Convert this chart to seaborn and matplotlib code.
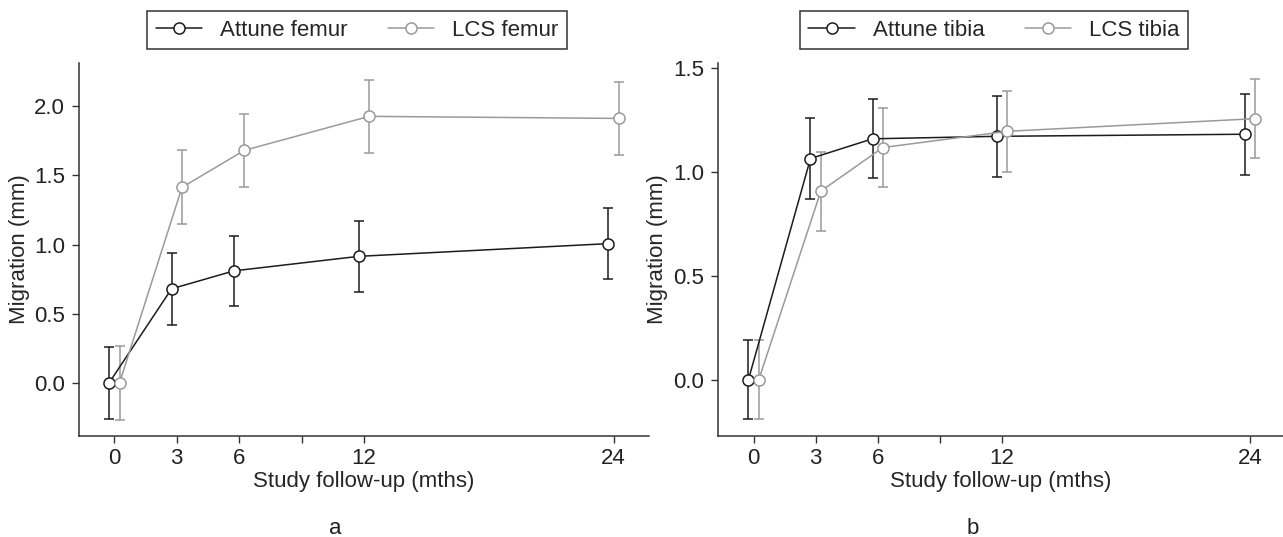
"""
Migration of femoral and tibial components over study follow-up.
Two panels (a: femur, b: tibia), mean migration with error bars.
"""

import numpy as np
import pandas as pd
import matplotlib
matplotlib.use("Agg")
import matplotlib.pyplot as plt
import seaborn as sns

# ──────────────────────────────────────────────
# Data
# ──────────────────────────────────────────────
months = [0, 3, 6, 12, 24]
month_ticks = [0, 3, 6, 9, 12, 24]
month_tick_labels = ["0", "3", "6", "", "12", "24"]

attune_femur = [0.0, 0.68, 0.81, 0.915, 1.007]
attune_femur_err = [0.26, 0.26, 0.255, 0.257, 0.258]
lcs_femur = [0.0, 1.414, 1.682, 1.928, 1.913]
lcs_femur_err = [0.268, 0.268, 0.266, 0.265, 0.265]

attune_tibia = [0.0, 1.065, 1.16, 1.172, 1.182]
attune_tibia_err = [0.19, 0.195, 0.19, 0.195, 0.195]
lcs_tibia = [0.0, 0.908, 1.118, 1.196, 1.257]
lcs_tibia_err = [0.19, 0.19, 0.19, 0.195, 0.19]

femur_ticks = [0.0, 0.5, 1.0, 1.5, 2.0]
tibia_ticks = [0.0, 0.5, 1.0, 1.5]

DARK = "#1c1c1c"
GREY = "#9a9a9a"
SPINE = "#333333"
DODGE = 0.25


def setup_style():
    sns.set_style("ticks")
    plt.rcParams.update({
        "font.family": ["Liberation Sans", "DejaVu Sans"],
        "font.size": 16,
        "axes.edgecolor": SPINE,
        "axes.linewidth": 1.1,
        "xtick.color": SPINE,
        "ytick.color": SPINE,
        "xtick.labelcolor": "#222222",
        "ytick.labelcolor": "#222222",
        "xtick.major.size": 5,
        "ytick.major.size": 5,
        "xtick.major.width": 1.0,
        "ytick.major.width": 1.0,
        "xtick.major.pad": 4,
        "ytick.major.pad": 5,
    })


def draw_panel(ax, series, yticks, ylim, xlim):
    """series: list of (label, values, errors, colour, offset)"""
    handles = []
    for label, vals, errs, colour, offset in series:
        df = pd.DataFrame({
            "month": np.array(months, dtype=float) + offset,
            "migration": vals,
        })
        ax.errorbar(df["month"], df["migration"], yerr=errs, fmt="none",
                    ecolor=colour, elinewidth=1.1, capsize=3.6,
                    capthick=1.1, zorder=1)
        sns.lineplot(data=df, x="month", y="migration", ax=ax,
                     color=colour, linewidth=1.1, marker="o",
                     markersize=8, markerfacecolor="white",
                     markeredgecolor=colour, markeredgewidth=1.1,
                     label=label, zorder=3, legend=False)
        handles.append(ax.lines[-1])

    ax.set_xlim(*xlim)
    ax.set_ylim(*ylim)
    ax.set_xticks(month_ticks)
    ax.set_xticklabels(month_tick_labels)
    ax.set_yticks(yticks)
    ax.set_yticklabels([f"{t:.1f}" for t in yticks])
    ax.set_xlabel("Study follow-up (mths)", labelpad=1)
    ax.set_ylabel("Migration (mm)")
    sns.despine(ax=ax)
    return handles


def main():
    setup_style()
    fig = plt.figure(figsize=(12.83, 5.37), dpi=100)

    ax_a = fig.add_axes([79 / 1283, 101 / 537, 570 / 1283, 373 / 537])
    ax_b = fig.add_axes([718 / 1283, 101 / 537, 565 / 1283, 373 / 537])

    h_a = draw_panel(ax_a, [
        ("Attune femur", attune_femur, attune_femur_err, DARK, -DODGE),
        ("LCS femur", lcs_femur, lcs_femur_err, GREY, DODGE),
    ], femur_ticks, (-0.385, 2.314), (-1.7, 25.7))

    h_b = draw_panel(ax_b, [
        ("Attune tibia", attune_tibia, attune_tibia_err, DARK, -DODGE),
        ("LCS tibia", lcs_tibia, lcs_tibia_err, GREY, DODGE),
    ], tibia_ticks, (-0.271, 1.525), (-1.72, 25.59))

    ax_a.yaxis.set_label_coords(-0.086, 0.5)
    ax_b.yaxis.set_label_coords(-0.088, 0.5)

    legend_kw = dict(loc="center", ncol=2, frameon=True, fancybox=False,
                     edgecolor=SPINE, framealpha=1, fontsize=16,
                     handlelength=2.1, handletextpad=0.8, columnspacing=1.8,
                     borderpad=0.4, bbox_transform=fig.transFigure)
    leg_a = ax_a.legend(h_a, [h.get_label() for h in h_a],
                        bbox_to_anchor=(357 / 1283, 1 - 30 / 537), **legend_kw)
    leg_b = ax_b.legend(h_b, [h.get_label() for h in h_b],
                        bbox_to_anchor=(994 / 1283, 1 - 30 / 537), **legend_kw)
    for leg in (leg_a, leg_b):
        leg.get_frame().set_linewidth(1.1)

    fig.text(335 / 1283, 1 - 528 / 537, "a", ha="center", va="center",
             fontsize=16, color="#222222")
    fig.text(973 / 1283, 1 - 528 / 537, "b", ha="center", va="center",
             fontsize=16, color="#222222")

    fig.savefig("out.png", dpi=100)
    plt.close(fig)


if __name__ == "__main__":
    main()
